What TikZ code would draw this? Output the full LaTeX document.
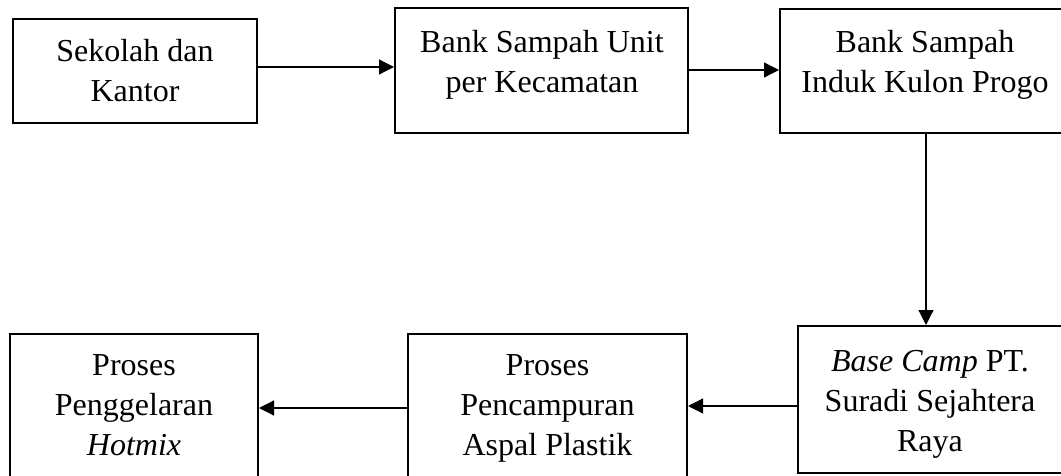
\documentclass[tikz,border=0pt]{standalone}
\usepackage{fontspec}
\setmainfont{Liberation Serif}
\usetikzlibrary{arrows.meta}

\tikzset{
  box/.style={draw, line width=2pt, rectangle, inner sep=0pt, fill=white},
  txt/.style={anchor=base, inner sep=0pt,
    font=\fontsize{32}{40}\selectfont},
  arr/.style={line width=1.2pt, -{Triangle[length=15pt,width=15pt]}}
}
\newcommand{\lines}[1]{\begin{tabular}[t]{@{}c@{}}#1\end{tabular}}

\begin{document}
\begin{tikzpicture}[x=1pt,y=-1pt]
  \useasboundingbox (0,0) rectangle (1061,476);
  \fill[white] (0,0) rectangle (1061,476);
  \clip (0,0) rectangle (1061,476);

  % process boxes
  \node[box, minimum width=244pt, minimum height=104pt] (b1) at (135,71) {};
  \node[box, minimum width=293pt, minimum height=125pt] (b2) at (541.5,70.5) {};
  \node[box, minimum width=288pt, minimum height=124pt] (b3) at (924,71) {};
  \node[box, minimum width=266pt, minimum height=147pt] (b4) at (931,399.5) {};
  \node[box, minimum width=279pt, minimum height=148pt] (b5) at (547.5,408) {};
  \node[box, minimum width=248pt, minimum height=148pt] (b6) at (134,408) {};

  % box captions, top aligned
  \node[txt] (t1) at (135,62) {\lines{Sekolah dan\\Kantor}};
  \node[txt] (t2) at (542,53) {\lines{Bank Sampah Unit\\per Kecamatan}};
  \node[txt] (t3) at (925,53) {\lines{Bank Sampah\\Induk Kulon Progo}};
  \node[txt] (t4) at (930,371) {\lines{\textit{Base Camp} PT.\\Suradi Sejahtera\\Raya}};
  \node[txt] (t5) at (547.5,375.5) {\lines{Proses\\Pencampuran\\Aspal Plastik}};
  \node[txt] (t6) at (134,375.5) {\lines{Proses\\Penggelaran\\\textit{Hotmix}}};

  % flow
  \draw[arr] ([yshift=4pt]b1.east) -- ([yshift=4pt]b1.east -| b2.west);
  \draw[arr] ([yshift=0.5pt]b2.east) -- ([yshift=0.5pt]b2.east -| b3.west);
  \draw[arr] ([xshift=2pt]b3.south) -- ([xshift=2pt]b3.south |- b4.north);
  \draw[arr] ([yshift=-6.5pt]b4.west) -- ([yshift=-6.5pt]b4.west -| b5.east);
  \draw[arr] (b5.west) -- (b5.west -| b6.east);
\end{tikzpicture}
\end{document}
